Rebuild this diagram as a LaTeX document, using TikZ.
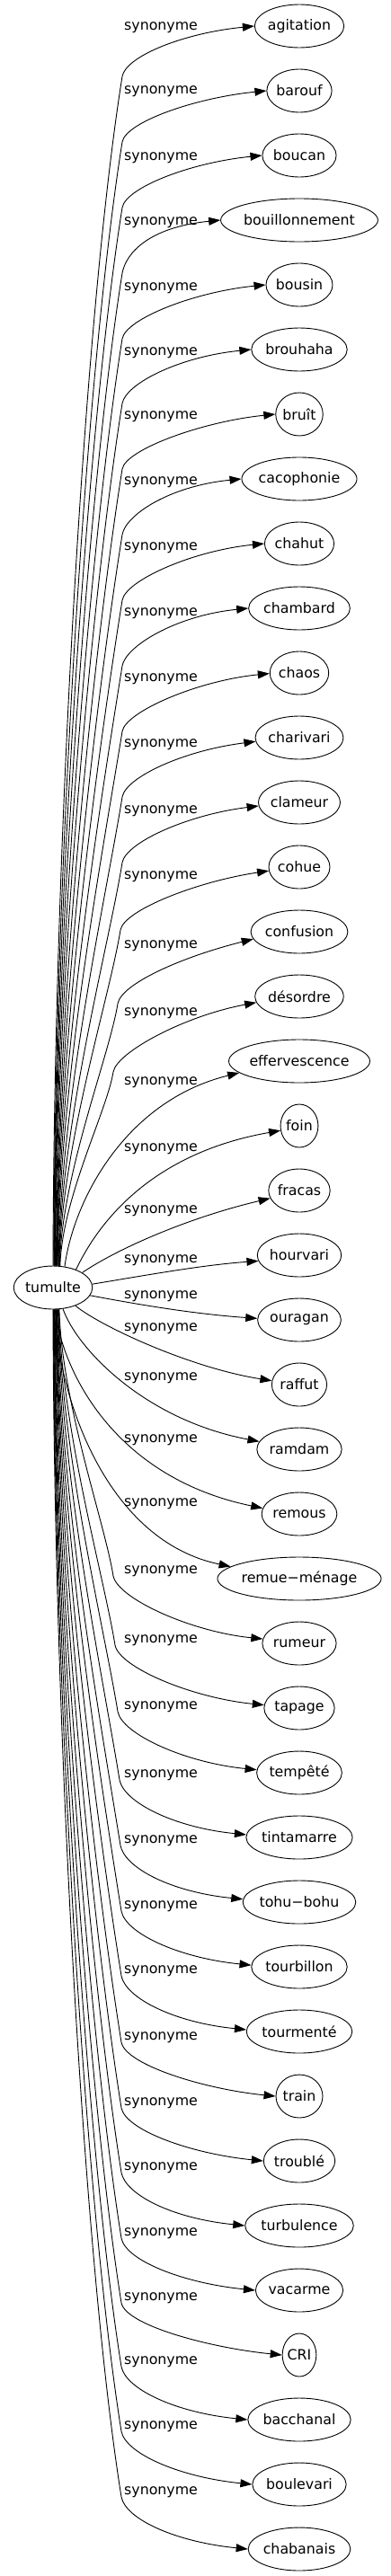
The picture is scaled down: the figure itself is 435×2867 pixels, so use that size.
\documentclass[tikz,border=0pt]{standalone}
\usepackage{fontspec}
\setmainfont{DejaVu Sans}
\usetikzlibrary{arrows.meta,calc,shapes.geometric}
\newcommand\dgfont{\fontsize{15.8}{19}\selectfont}
\newdimen\tw
\begin{document}
\begin{tikzpicture}[x=1pt,y=-1pt,
  gn/.style={draw, ellipse, line width=0.9pt, inner sep=0pt, minimum height=48pt, font=\dgfont},
  lab/.style={font=\dgfont, inner sep=0pt, anchor=west},
  edge/.style={line width=0.9pt, -{Triangle[length=13pt,width=9pt]}}]
\useasboundingbox (0,0) rectangle (435,2867);
% central node
\settowidth{\tw}{\dgfont tumulte}
\pgfmathsetmacro\nw{1.207*(\tw+29.4)}
\node[gn, minimum width=\nw pt] (tumulte) at (59,1433) {tumulte};
% target nodes
\foreach \i/\t/\wt in {0/agitation/agitation, 1/barouf/barouf, 2/boucan/boucan,
  3/bouillonnement/bouillonnement, 4/bousin/bousin, 5/brouhaha/brouhaha, 6/bruît/bruît,
  7/cacophonie/cacophonie, 8/chahut/chahut, 9/chambard/chambard, 10/chaos/chaos,
  11/charivari/charivari, 12/clameur/clameur, 13/cohue/cohue, 14/confusion/confusion,
  15/désordre/désordre, 16/effervescence/effervescence, 17/foin/foin, 18/fracas/fracas,
  19/hourvari/hourvari, 20/ouragan/ouragan, 21/raffut/raffut, 22/ramdam/ramdam,
  23/remous/remous, 24/remue−ménage/remue–ménage, 25/rumeur/rumeur, 26/tapage/tapage,
  27/tempêté/tempêté, 28/tintamarre/tintamarre, 29/tohu−bohu/tohu–bohu,
  30/tourbillon/tourbillon, 31/tourmenté/tourmenté, 32/train/train, 33/troublé/troublé,
  34/turbulence/turbulence, 35/vacarme/vacarme, 36/CRI/CRI, 37/bacchanal/bacchanal,
  38/boulevari/boulevari, 39/chabanais/chabanais} {
  \settowidth{\tw}{\dgfont \wt}
  \pgfmathsetmacro\nw{1.207*(\tw+29.4)}
  \pgfmathsetmacro\ny{29+72*\i}
  \node[gn, minimum width=\nw pt] (n\i) at (333,\ny) {\t};
}
% upper edges: long straight part then bend
\foreach \i/\yl/\bx/\bo/\ea/\cy in {0/31/136/56/180/8, 1/102/136/57/180/8, 2/176/136/58/180/8,
  3/248/136/59/180/8, 4/321/136/60/180/8, 5/393/136/60/180/8, 6/464/136/61/180/8,
  7/537/136/62/180/8, 8/610/136/63/180/8, 9/683/136/64/180/8, 10/756/136/65/181/8,
  11/829/136/66/185/10, 12/903/136/67/185/10, 13/976/134/70/187/12,
  14/1053/131/80/189/20, 15/1128/126/84/188/15} {
  \pgfmathsetmacro\by{29+72*\i+\bo}
  \pgfmathsetmacro\L{1409-\by}
  \pgfmathtruncatemacro\sa{90-1.2*\i}
  \pgfmathsetmacro\cax{60+0.6*\i}
  \pgfmathsetmacro\cay{1409-0.35*\L}
  \pgfmathsetmacro\cbx{\bx-0.032*\L}
  \pgfmathsetmacro\cby{\by+0.2*\L}
  \node[lab] (l\i) at (138,\yl) {synonyme};
  \draw[edge] (tumulte.\sa) .. controls (\cax,\cay) and (\cbx,\cby) .. (\bx,\by)
    .. controls ($(\bx,\by)+(4,-22)$) and ($(n\i.\ea)+(-80,\cy)$) .. (n\i.\ea);
}
% middle edges: single curves
\foreach \i/\yl/\sa/\ax/\ay/\bx/\by/\ea in {16/1205/61/82/1335/140/1225/191,
  17/1279/38/105/1370/160/1285/194, 18/1348/27/130/1390/210/1355/195,
  19/1403/5/170/1418/225/1408/188, 20/1443/348/170/1455/225/1463/178,
  21/1479/321/110/1475/210/1522/172, 22/1534/295/85/1500/160/1580/169,
  23/1603/275/70/1530/130/1645/171, 24/1674/273/66/1560/120/1715/170} {
  \node[lab] (l\i) at (138,\yl) {synonyme};
  \draw[edge] (tumulte.\sa) .. controls (\ax,\ay) and (\bx,\by) .. (n\i.\ea);
}
% lower edges: long straight part then bend
\foreach \i/\yl/\bx/\ea in {25/1749/126/173, 26/1826/128/175, 27/1900/131/176,
  28/1976/133/177, 29/2049/134/177, 30/2122/135/178, 31/2194/135/178, 32/2268/135/180,
  33/2341/135/180, 34/2413/135/180, 35/2486/135/180, 36/2558/135/180, 37/2629/135/180,
  38/2701/135/180, 39/2774/135/180} {
  \pgfmathsetmacro\by{\yl+5}
  \pgfmathsetmacro\L{\by-1457}
  \pgfmathtruncatemacro\sa{270+1.2*(39-\i)}
  \pgfmathsetmacro\cax{60+0.6*(39-\i)}
  \pgfmathsetmacro\cay{1457+0.35*\L}
  \pgfmathsetmacro\cbx{\bx-0.032*\L}
  \pgfmathsetmacro\cby{\by-0.2*\L}
  \node[lab] (l\i) at (138,\yl) {synonyme};
  \draw[edge] (tumulte.\sa) .. controls (\cax,\cay) and (\cbx,\cby) .. (\bx,\by)
    .. controls ($(\bx,\by)+(5,25)$) and ($(n\i.\ea)+(-80,-8)$) .. (n\i.\ea);
}
\end{tikzpicture}
\end{document}
